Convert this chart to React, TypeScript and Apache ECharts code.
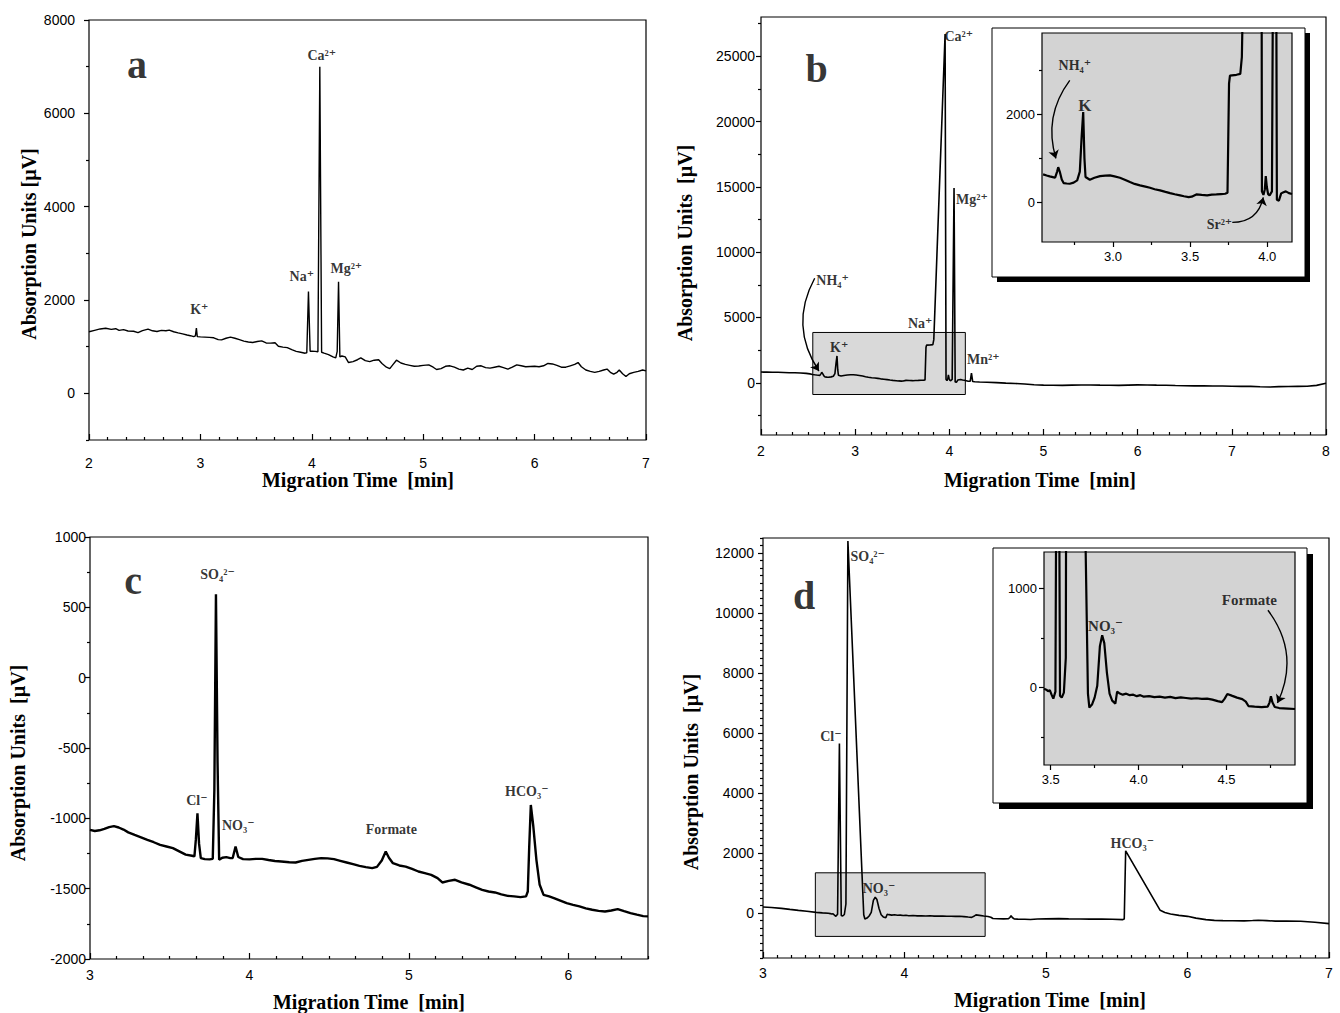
import React, { useEffect, useRef } from 'react';
import * as echarts from 'echarts';

const SERIF = '"Liberation Serif", "Times New Roman", "DejaVu Serif", serif';
const SANS = '"Liberation Sans", Arial, "DejaVu Sans", sans-serif';

// ---------- Panel a : cations ----------
const traceA: [number, number][] = [
  [2.00,1320],[2.05,1350],[2.10,1380],[2.15,1395],[2.20,1370],[2.24,1385],[2.27,1350],[2.31,1365],[2.35,1335],[2.40,1330],
  [2.44,1300],[2.48,1345],[2.53,1375],[2.57,1340],[2.61,1325],[2.65,1350],[2.69,1340],[2.72,1355],[2.76,1320],[2.80,1295],
  [2.84,1275],[2.88,1250],[2.91,1235],[2.94,1215],[2.955,1230],[2.964,1400],[2.972,1215],[3.00,1210],[3.04,1205],[3.08,1200],
  [3.12,1190],[3.16,1150],[3.19,1145],[3.23,1180],[3.27,1205],[3.31,1180],[3.35,1150],[3.39,1120],[3.43,1100],[3.47,1090],
  [3.51,1110],[3.55,1125],[3.59,1080],[3.63,1075],[3.67,1085],[3.70,1010],[3.74,990],[3.78,980],[3.82,935],[3.86,900],
  [3.90,880],[3.94,860],[3.955,870],[3.970,2180],[3.985,900],[4.00,905],[4.03,900],[4.055,890],[4.072,7000],[4.088,880],
  [4.11,860],[4.15,830],[4.19,780],[4.215,760],[4.228,900],[4.240,2390],[4.252,780],[4.27,800],[4.30,780],[4.33,660],
  [4.37,680],[4.41,720],[4.44,760],[4.48,700],[4.52,680],[4.56,710],[4.60,720],[4.63,640],[4.67,560],[4.70,530],
  [4.73,620],[4.76,710],[4.80,650],[4.84,620],[4.88,600],[4.92,580],[4.96,585],[5.00,600],[5.05,610],[5.09,560],
  [5.12,510],[5.16,530],[5.20,580],[5.24,590],[5.28,560],[5.32,520],[5.36,500],[5.40,540],[5.44,510],[5.48,580],
  [5.52,590],[5.56,550],[5.60,540],[5.64,560],[5.68,580],[5.72,550],[5.76,520],[5.80,560],[5.84,610],[5.88,590],
  [5.92,570],[5.96,575],[6.00,580],[6.04,570],[6.08,590],[6.12,640],[6.16,630],[6.20,600],[6.24,560],[6.28,560],
  [6.32,590],[6.36,620],[6.39,660],[6.42,570],[6.46,500],[6.50,470],[6.54,450],[6.58,470],[6.62,500],[6.65,520],
  [6.68,450],[6.71,410],[6.74,450],[6.76,500],[6.79,420],[6.82,360],[6.85,420],[6.89,450],[6.93,470],[6.97,500],[7.00,480],
];
const labelsA: [number, number, string][] = [
  [2.99, 1800, 'K⁺'], [3.91, 2500, 'Na⁺'], [4.09, 7250, 'Ca²⁺'], [4.31, 2680, 'Mg²⁺'],
];
const letterA: [number, number, string][] = [[2.43, 7050, 'a']];
const aXTicks = [2, 3, 4, 5, 6, 7];
const aYTicks = [0, 2000, 4000, 6000, 8000];

// ---------- Panel b : cations (with inset) ----------
const traceBLeft: [number, number][] = [
  [2.00,818],[2.06,810],[2.12,800],[2.18,805],[2.24,790],[2.30,770],[2.36,760],[2.42,745],[2.48,720],[2.52,680],
];
const traceBDetail: [number, number][] = [
  [2.547,636],[2.57,610],[2.59,591],[2.61,575],[2.625,561],[2.638,700],[2.645,800],[2.655,700],[2.668,520],[2.68,440],
  [2.70,430],[2.72,424],[2.745,450],[2.768,500],[2.785,700],[2.797,1500],[2.807,2053],[2.815,1000],[2.822,576],[2.85,515],
  [2.88,560],[2.916,598],[2.95,610],[2.98,614],[3.01,590],[3.045,561],[3.08,510],[3.11,462],[3.14,420],[3.175,386],
  [3.21,360],[3.24,333],[3.27,300],[3.305,273],[3.34,240],[3.37,212],[3.40,185],[3.435,159],[3.46,140],[3.49,121],
  [3.51,130],[3.54,182],[3.575,170],[3.61,159],[3.64,175],[3.67,182],[3.70,190],[3.727,197],[3.742,220],[3.752,2700],
  [3.758,2880],[3.80,2900],[3.825,2920],[3.835,3300],[3.955,26700],[3.965,250],[3.975,170],[3.984,300],[3.99,600],[3.997,350],
  [4.005,190],[4.015,160],[4.030,250],[4.050,14900],[4.062,60],[4.075,40],[4.09,205],[4.105,230],[4.12,250],[4.14,210],[4.16,190],
];
const traceBRight: [number, number][] = [
  [4.18,150],[4.20,110],[4.222,120],[4.235,740],[4.248,90],[4.27,80],[4.32,60],[4.40,40],[4.50,10],[4.60,-30],
  [4.70,-60],[4.80,-90],[4.90,-150],[5.00,-180],[5.10,-195],[5.20,-200],[5.30,-180],[5.40,-175],[5.50,-170],[5.60,-185],
  [5.70,-195],[5.80,-200],[5.90,-180],[6.00,-160],[6.10,-175],[6.20,-185],[6.30,-190],[6.40,-210],[6.50,-225],[6.60,-240],
  [6.70,-235],[6.80,-245],[6.90,-250],[7.00,-265],[7.10,-275],[7.20,-280],[7.30,-310],[7.40,-330],[7.50,-300],[7.60,-290],
  [7.70,-280],[7.80,-270],[7.90,-200],[8.00,-40],
];
const labelsB: [number, number, string][] = [
  [2.76, 7800, 'NH₄⁺'], [2.83, 2675, 'K⁺'], [3.69, 4510, 'Na⁺'], [4.10, 26530, 'Ca²⁺'],
  [4.24, 14040, 'Mg²⁺'], [4.36, 1760, 'Mn²⁺'],
];
const letterB: [number, number, string][] = [[2.59, 24060, 'b']];
const arrowsB: [number, number, number, number, number][] = [[2.57, 8000, 2.615, 900, -0.3]];
const shadeB: [number, number, number, number] = [2.55, -900, 4.17, 3850];
const bXTicks = [2, 3, 4, 5, 6, 7, 8];
const bYTicks = [0, 5000, 10000, 15000, 20000, 25000];

const labelsBi: [number, number, string][] = [[2.753, 3114, 'NH₄⁺'], [3.69, -500, 'Sr²⁺']];
const labelBiK: [number, number, string][] = [[2.818, 2205, 'K']];
const arrowsBi: [number, number, number, number, number][] = [
  [2.72, 2773, 2.63, 1000, -0.25], [3.773, -455, 3.974, 114, -0.4],
];
const biXTicks = [3.0, 3.5, 4.0];
const biYTicks = [0, 2000];

// ---------- Panel c : anions ----------
const traceC: [number, number][] = [
  [3.00,-1082],[3.03,-1090],[3.06,-1085],[3.09,-1075],[3.12,-1062],[3.15,-1055],[3.18,-1065],[3.21,-1080],[3.24,-1100],[3.28,-1118],
  [3.32,-1135],[3.36,-1153],[3.40,-1170],[3.44,-1189],[3.48,-1200],[3.52,-1212],[3.56,-1235],[3.60,-1258],[3.64,-1266],[3.655,-1271],
  [3.664,-1150],[3.674,-964],[3.684,-1180],[3.695,-1283],[3.72,-1290],[3.75,-1292],[3.77,-1288],[3.780,-800],[3.790,593],[3.800,-600],
  [3.81,-1295],[3.83,-1280],[3.855,-1276],[3.88,-1283],[3.895,-1282],[3.913,-1200],[3.93,-1275],[3.96,-1290],[4.00,-1292],[4.04,-1288],
  [4.08,-1288],[4.12,-1296],[4.16,-1303],[4.20,-1307],[4.25,-1312],[4.29,-1314],[4.33,-1302],[4.37,-1295],[4.41,-1288],[4.45,-1283],
  [4.49,-1285],[4.53,-1290],[4.57,-1302],[4.61,-1314],[4.65,-1326],[4.69,-1338],[4.73,-1347],[4.77,-1354],[4.80,-1345],[4.83,-1300],
  [4.855,-1236],[4.875,-1280],[4.90,-1319],[4.94,-1335],[4.98,-1343],[5.02,-1360],[5.06,-1378],[5.10,-1390],[5.14,-1402],[5.18,-1425],
  [5.21,-1456],[5.25,-1445],[5.29,-1437],[5.33,-1455],[5.38,-1472],[5.42,-1490],[5.46,-1508],[5.50,-1520],[5.54,-1527],[5.58,-1540],
  [5.62,-1551],[5.66,-1555],[5.70,-1560],[5.735,-1555],[5.746,-1520],[5.755,-1200],[5.765,-905],[5.78,-1050],[5.80,-1295],[5.82,-1470],
  [5.845,-1544],[5.88,-1555],[5.91,-1567],[5.95,-1585],[5.99,-1603],[6.03,-1615],[6.07,-1626],[6.11,-1640],[6.15,-1650],[6.19,-1658],
  [6.23,-1662],[6.27,-1655],[6.31,-1645],[6.35,-1660],[6.39,-1674],[6.43,-1685],[6.47,-1695],[6.50,-1697],
];
const labelsC: [number, number, string][] = [
  [3.80, 735, 'SO₄²⁻'], [3.67, -876, 'Cl⁻'], [3.93, -1054, 'NO₃⁻'], [4.89, -1082, 'Formate'], [5.74, -810, 'HCO₃⁻'],
];
const letterC: [number, number, string][] = [[3.27, 692, 'c']];
const cXTicks = [3, 4, 5, 6];
const cYTicks = [-2000, -1500, -1000, -500, 0, 500, 1000];

// ---------- Panel d : anions (with inset) ----------
const traceDLeft: [number, number][] = [
  [3.00,200],[3.06,185],[3.13,155],[3.19,120],[3.25,89],[3.31,60],[3.376,22],[3.42,5],
];
const traceDDetail: [number, number][] = [
  [3.462,-10],[3.475,-20],[3.485,-35],[3.495,-25],[3.505,-70],[3.515,-110],[3.527,-40],[3.540,5650],[3.553,-80],[3.563,-100],
  [3.575,-50],[3.586,300],[3.600,12400],[3.712,-60],[3.720,-200],[3.735,-170],[3.750,-100],[3.765,20],[3.780,420],[3.793,530],
  [3.805,450],[3.820,150],[3.835,-60],[3.850,-130],[3.868,-160],[3.878,-40],[3.890,-55],[3.91,-70],[3.93,-60],[3.95,-75],
  [3.97,-70],[3.99,-85],[4.01,-75],[4.03,-90],[4.06,-85],[4.09,-95],[4.12,-90],[4.15,-100],[4.18,-92],[4.21,-105],
  [4.24,-98],[4.27,-104],[4.30,-110],[4.33,-106],[4.36,-112],[4.39,-110],[4.42,-120],[4.45,-135],[4.475,-145],[4.49,-110],
  [4.505,-63],[4.53,-80],[4.56,-100],[4.59,-115],[4.61,-140],[4.625,-185],[4.66,-190],[4.70,-195],[4.735,-190],[4.745,-150],
  [4.753,-87],[4.762,-150],[4.775,-195],[4.80,-205],[4.85,-210],[4.89,-215],
];
const traceDRight: [number, number][] = [
  [4.94,-200],[5.00,-195],[5.09,-189],[5.16,-195],[5.24,-200],[5.31,-205],[5.394,-200],[5.47,-210],[5.54,-222],[5.553,-200],
  [5.563,2074],[5.807,89],[5.84,20],[5.88,-33],[5.94,-80],[6.00,-111],[6.06,-170],[6.13,-222],[6.19,-245],[6.25,-255],
  [6.32,-260],[6.40,-262],[6.46,-250],[6.50,-240],[6.56,-255],[6.62,-270],[6.70,-272],[6.80,-277],[6.90,-310],[7.00,-355],
];
const labelsD: [number, number, string][] = [
  [3.48, 5900, 'Cl⁻'], [3.74, 11900, 'SO₄²⁻'], [3.82, 830, 'NO₃⁻'], [5.61, 2330, 'HCO₃⁻'],
];
const letterD: [number, number, string][] = [[3.29, 10600, 'd']];
const shadeD: [number, number, number, number] = [3.37, -780, 4.57, 1340];
const dXTicks = [3, 4, 5, 6, 7];
const dYTicks = [0, 2000, 4000, 6000, 8000, 10000, 12000];

const labelsDi: [number, number, string][] = [[3.812, 620, 'NO₃⁻'], [4.63, 882, 'Formate']];
const arrowsDi: [number, number, number, number, number][] = [[4.736, 782, 4.79, -154, 0.3]];
const diXTicks = [3.5, 4.0, 4.5];
const diYTicks = [0, 1000];

// ---------- helpers ----------
function axisPair(dim: 'x' | 'y', gridIndex: number, min: number, max: number, majors: number[], minorStep: number, cfg: any) {
  const minors: number[] = [];
  const start = Math.ceil(min / minorStep - 1e-9);
  for (let k = start; k * minorStep <= max + 1e-9; k++) {
    const v = k * minorStep;
    if (!majors.some((m) => Math.abs(m - v) < 1e-6)) minors.push(+v.toFixed(6));
  }
  const base: any = {
    type: 'value', gridIndex, min, max, position: dim === 'x' ? 'bottom' : 'left',
    splitLine: { show: false }, axisLine: { show: false, onZero: false }, z: cfg.z || 0,
  };
  return [
    {
      ...base,
      axisTick: { show: true, inside: cfg.inside, length: cfg.major, customValues: majors, lineStyle: { color: '#000', width: 1.2 } },
      axisLabel: { show: true, customValues: majors, margin: cfg.margin, fontFamily: SANS, fontSize: cfg.fs || 14, color: '#000', formatter: cfg.fmt || ((v: number) => String(v)) },
    },
    {
      ...base,
      axisTick: { show: true, inside: cfg.inside, length: cfg.minor, customValues: minors, lineStyle: { color: '#000', width: 1.2 } },
      axisLabel: { show: false },
    },
  ];
}

function lineS(data: [number, number][], gi: number, width: number, z: number, extra: any = {}) {
  return { type: 'line', data, xAxisIndex: gi * 2, yAxisIndex: gi * 2, showSymbol: false, symbol: 'none', clip: true, silent: true,
    lineStyle: { color: '#000', width }, z, ...extra };
}
function textS(items: [number, number, string][], gi: number, fs: number, z: number) {
  return { type: 'scatter', xAxisIndex: gi * 2, yAxisIndex: gi * 2, symbolSize: 0, silent: true, z,
    data: items.map(([t, v, s]) => ({ name: s, value: [t, v] })),
    label: { show: true, position: 'inside', formatter: '{b}', fontFamily: SERIF, fontWeight: 'bold', fontSize: fs, color: '#000' } };
}
function arrowS(items: [number, number, number, number, number][], gi: number, z: number) {
  return { type: 'lines', coordinateSystem: 'cartesian2d', xAxisIndex: gi * 2, yAxisIndex: gi * 2, silent: true, z,
    symbol: ['none', 'arrow'], symbolSize: 8, lineStyle: { color: '#000', width: 1.4, opacity: 1 },
    data: items.map(([t1, v1, t2, v2, c]) => ({ coords: [[t1, v1], [t2, v2]], lineStyle: { curveness: c } })) };
}
function shadeArea(r: [number, number, number, number]) {
  return { silent: true, itemStyle: { color: '#d9d9d9', borderColor: '#000', borderWidth: 1 },
    data: [[{ coord: [r[0], r[1]] }, { coord: [r[2], r[3]] }]] };
}

const mainX = { inside: true, major: 6, minor: 3 };
const mainY = { inside: false, major: 5, minor: 3 };
const insetAx = { inside: false, major: 5, minor: 3, z: 4, fs: 13 };
const fix1 = (v: number) => v.toFixed(1);

export default function App() {
  const ref = useRef<HTMLDivElement>(null);
  useEffect(() => {
    const chart = echarts.init(ref.current!, null, { renderer: 'svg' });
    const grid = (left: number, top: number, width: number, height: number, inset = false) => ({
      left, top, width, height, show: true, borderColor: '#000', borderWidth: 1.2,
      backgroundColor: inset ? '#d3d3d3' : 'transparent', z: inset ? 3 : 0,
    });
    const xAxis = [
      ...axisPair('x', 0, 2, 7, aXTicks, 1 / 6, { ...mainX, margin: 16 }),
      ...axisPair('x', 1, 2, 8, bXTicks, 1 / 6, { ...mainX, margin: 9 }),
      ...axisPair('x', 2, 2.54, 4.16, biXTicks, 0.25, { ...insetAx, margin: 8, fmt: fix1 }),
      ...axisPair('x', 3, 3, 6.5, cXTicks, 1 / 6, { ...mainX, margin: 9 }),
      ...axisPair('x', 4, 3, 7, dXTicks, 0.1, { ...mainX, margin: 8 }),
      ...axisPair('x', 5, 3.462, 4.89, diXTicks, 0.25, { ...insetAx, margin: 8, fmt: fix1 }),
    ];
    const yAxis = [
      ...axisPair('y', 0, -1000, 8000, aYTicks, 1000, { ...mainY, margin: 14 }),
      ...axisPair('y', 1, -4000, 28000, bYTicks, 2500, { ...mainY, margin: 6 }),
      ...axisPair('y', 2, -900, 3850, biYTicks, 1000, { ...insetAx, margin: 7 }),
      ...axisPair('y', 3, -2000, 1000, cYTicks, 250, { ...mainY, margin: 4 }),
      ...axisPair('y', 4, -1500, 12500, dYTicks, 250, { ...mainY, margin: 9 }),
      ...axisPair('y', 5, -780, 1370, diYTicks, 500, { ...insetAx, margin: 7 }),
    ];
    const titleFont = `bold 20px ${SERIF}`;
    const xTitle = (x: number, y: number) => ({ type: 'text', x, y, silent: true, z: 10,
      style: { text: 'Migration Time  [min]', font: titleFont, fill: '#000', textAlign: 'center', textVerticalAlign: 'middle' } });
    const yTitle = (x: number, y: number, text: string) => ({ type: 'text', x, y, rotation: Math.PI / 2, silent: true, z: 10,
      style: { text, font: titleFont, fill: '#000', textAlign: 'center', textVerticalAlign: 'middle' } });
    const option: any = {
      animation: false,
      backgroundColor: '#fff',
      grid: [
        grid(89, 20, 557, 420),
        grid(761, 17, 565, 418),
        grid(1042, 33, 250, 209, true),
        grid(90, 537, 558, 422),
        grid(763, 538, 566, 420),
        grid(1044, 552, 251, 213, true),
      ],
      xAxis,
      yAxis,
      graphic: {
        elements: [
          { type: 'rect', shape: { x: 997, y: 33, width: 313, height: 249 }, style: { fill: '#000' }, z: 1, silent: true },
          { type: 'rect', shape: { x: 992, y: 28, width: 313, height: 249 }, style: { fill: '#fff', stroke: '#000', lineWidth: 1 }, z: 2, silent: true },
          { type: 'rect', shape: { x: 999, y: 554, width: 314, height: 255 }, style: { fill: '#000' }, z: 1, silent: true },
          { type: 'rect', shape: { x: 993, y: 548, width: 314, height: 255 }, style: { fill: '#fff', stroke: '#000', lineWidth: 1 }, z: 2, silent: true },
          xTitle(358, 480), xTitle(1040, 480), xTitle(369, 1002), xTitle(1050, 1000),
          yTitle(29, 244, 'Absorption Units [µV]'),
          yTitle(685, 243, 'Absorption Units  [µV]'),
          yTitle(18, 763, 'Absorption Units  [µV]'),
          yTitle(691, 772, 'Absorption Units  [µV]'),
        ],
      },
      series: [
        lineS(traceA, 0, 1.4, 3),
        textS(labelsA, 0, 14, 6),
        textS(letterA, 0, 40, 6),

        lineS([...traceBLeft, ...traceBDetail, ...traceBRight], 1, 1.6, 3, { markArea: shadeArea(shadeB) }),
        textS(labelsB, 1, 14, 6),
        textS(letterB, 1, 40, 6),
        arrowS(arrowsB, 1, 6),

        lineS(traceBDetail, 2, 2.2, 5),
        textS(labelsBi, 2, 14, 6),
        textS(labelBiK, 2, 17, 6),
        arrowS(arrowsBi, 2, 6),

        lineS(traceC, 3, 2.4, 3),
        textS(labelsC, 3, 14, 6),
        textS(letterC, 3, 40, 6),

        lineS([...traceDLeft, ...traceDDetail, ...traceDRight], 4, 1.6, 3, { markArea: shadeArea(shadeD) }),
        textS(labelsD, 4, 14, 6),
        textS(letterD, 4, 40, 6),

        lineS(traceDDetail, 5, 2.2, 5),
        textS(labelsDi, 5, 15, 6),
        arrowS(arrowsDi, 5, 6),
      ],
    };
    chart.setOption(option);
    return () => chart.dispose();
  }, []);
  return <div ref={ref} style={{ position: 'fixed', left: 0, top: 0, width: 1340, height: 1013, background: '#fff' }} />;
}
